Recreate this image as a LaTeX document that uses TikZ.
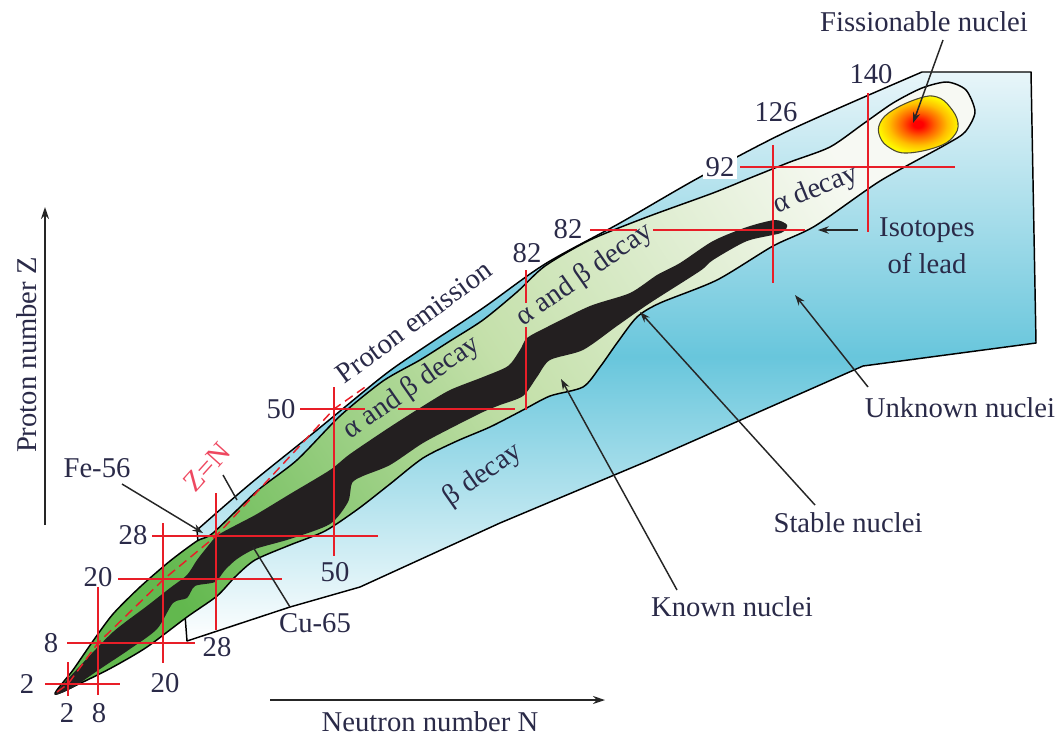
\documentclass[tikz,border=0pt]{standalone}
\usepackage{fontspec}
\setmainfont{Liberation Serif}
\usetikzlibrary{arrows.meta}
\definecolor{txt}{RGB}{42,42,72}
\definecolor{magic}{RGB}{232,30,40}
\definecolor{znred}{RGB}{238,72,96}
\definecolor{cyanA}{RGB}{104,198,220}
\definecolor{paleA}{RGB}{232,245,249}
\definecolor{gDark}{RGB}{98,184,78}
\definecolor{gMid}{RGB}{196,224,170}
\definecolor{gLight}{RGB}{247,249,243}
\definecolor{band}{RGB}{35,31,32}
\pgfdeclareradialshading{fiss}{\pgfpoint{0bp}{0bp}}{color(0bp)=(red); color(3bp)=(red); color(10bp)=(orange!75!red); color(18bp)=(orange!50!yellow); color(25bp)=(yellow!95!orange); color(50bp)=(yellow)}
\begin{document}
\begin{tikzpicture}[x=0.75pt,y=-0.75pt,
  every node/.style={text=txt,font=\fontsize{21.5}{24}\selectfont,inner sep=0pt},
  outline/.style={draw=black,line width=1.1pt,line join=round},
  magicline/.style={draw=magic,line width=1.1pt},
  leader/.style={draw=black!85,line width=1.1pt},
  pointer/.style={leader,-{Stealth[length=8pt,width=5.5pt]}},
  axisarrow/.style={draw=black!85,line width=1.1pt,-{Stealth[length=9pt,width=6pt]}},
  rlabel/.style={text=znred},
]
\useasboundingbox (0,0) rectangle (1059,736);
% unknown nuclei region
\shadedraw[outline,top color=paleA,bottom color=white,middle color=cyanA]
  (185,615) -- (187,641) -- (290,607) -- (360,587) -- (500,523) -- (650,460) -- (863,366) -- (1036,343) -- (1031,72) -- (922,72)
  -- plot[smooth,tension=0.5] coordinates {(922,72) (790,130) (700,177) (620,223) (545,264) (483,308) (420,350) (383,376) (317,430) (250,484) (197,530)}
  -- (200,565) -- cycle;
% known nuclei region
\shadedraw[outline,left color=gDark,right color=gLight,middle color=gMid,shading angle=123]
  plot[smooth cycle,tension=0.45] coordinates {(55,694) (73,670) (93,641) (113,614) (140,587) (170,561) (197,541) (213,533) (257,491) (297,460) (340,416) (383,381) (420,360) (450,341) (483,320) (517,292) (545,266) (590,240) (647,217) (713,193) (750,178) (790,162) (830,147) (863,124) (893,103) (922,88) (947,82) (966,90) (975,112) (965,132) (945,145) (880,181) (815,226) (773,246) (717,280) (660,303) (637,317) (617,343) (600,367) (583,387) (550,396) (523,410) (490,427) (457,441) (423,458) (390,484) (358,509) (325,531) (290,545) (255,560) (235,577) (217,596) (187,617) (147,647) (113,667) (83,682)};
% stable nuclei band
\fill[band] plot[smooth cycle,tension=0.45] coordinates {(55,694) (80,666) (113,632) (147,606) (170,588) (187,575) (197,560) (208,546) (218,535) (240,523) (257,514) (290,494) (330,470) (350,454) (390,427) (423,406) (450,390) (483,377) (508,366) (520,350) (527,338) (547,327) (590,306) (630,293) (657,275) (680,263) (713,241) (747,227) (775,220) (787,225) (781,233) (747,241) (713,260) (700,271) (650,303) (617,326) (583,350) (550,360) (537,377) (523,396) (500,405) (483,412) (457,425) (423,443) (390,465) (363,476) (352,483) (348,502) (330,524) (290,539) (255,549) (237,559) (225,570) (215,582) (195,586) (187,598) (173,603) (157,629) (130,649) (100,669) (72,688)};
% fissionable nuclei
\shadedraw[draw=black!60!olive,line width=0.8pt,shading=fiss] plot[smooth cycle,tension=0.7] coordinates {(880,123) (893,110) (920,98) (937,97) (950,107) (958,123) (953,137) (937,147) (907,153) (890,148) (880,137)};
% magic number lines (Z)
\draw[magicline] (45,684) -- (120,684);
\draw[magicline] (67,643) -- (195,643);
\draw[magicline] (118,579) -- (282,579);
\draw[magicline] (152,536) -- (378,536);
\draw[magicline] (300,409) -- (365,409);
\draw[magicline] (398,409) -- (515,409);
\draw[magicline] (590,230) -- (637,230);
\draw[magicline] (653,230) -- (805,230);
\draw[magicline] (740,167) -- (955,167);
% magic number lines (N)
\draw[magicline] (68,662) -- (68,696);
\draw[magicline] (98,587) -- (98,695);
\draw[magicline] (163,523) -- (163,663);
\draw[magicline] (216,493) -- (216,630);
\draw[magicline] (334,387) -- (334,556);
\draw[magicline] (526,270) -- (526,303);
\draw[magicline] (526,327) -- (526,410);
\draw[magicline] (773,145) -- (773,283);
\draw[magicline] (868,93) -- (868,232);
% Z = N
\draw[magicline,dash pattern=on 7pt off 4pt] plot coordinates {(57,692) (68,684) (98,643) (164,579) (216,536) (334,409) (368,385)};
% numbers
\node (z2) at (27,684) {2};
\node (z8) at (51,643) {8};
\node (z20) at (98,577) {20};
\node (z28) at (133,535) {28};
\node (z50) at (281,409) {50};
\node (z82) at (568,229) {82};
\node[fill=white,inner sep=2pt] (z92) at (720,167) {92};
\node (n2) at (67,713) {2};
\node (n8) at (99,713) {8};
\node (n20) at (165,683) {20};
\node (n28) at (217,647) {28};
\node (n50) at (335,572) {50};
\node (n82) at (527,253) {82};
\node (n126) at (776,112) {126};
\node (n140) at (871,74) {140};
% region texts
\node[rotate=36.5] (proton) at (414,322) {Proton emission};
\node[rotate=35] (ab1) at (412,388) {α and β decay};
\node[rotate=35] (ab2) at (585,275) {α and β decay};
\node[rotate=22] (ad) at (816,190) {α decay};
\node[rotate=35] (bd) at (483,475) {β decay};
\node[rlabel,rotate=48] (zn) at (207,467) {Z=N};
% labels
\node (fe) at (97,468) {Fe-56};
\node (cu) at (315,623) {Cu-65};
\node (known) at (732,607) {Known nuclei};
\node (stable) at (848,523) {Stable nuclei};
\node (unknown) at (960,408) {Unknown nuclei};
\node (iso1) at (927,230) {Isotopes};
\node (iso2) at (927,264) {of lead};
\node (fiss) at (924,22) {Fissionable nuclei};
\node[rotate=90] (pz) at (27,355) {Proton number Z};
\node (nn) at (430,722) {Neutron number N};
% leaders
\coordinate (feA) at (122,484); \coordinate (feB) at (203,533);
\draw[pointer] (feA) -- (feB);
\coordinate (znA) at (223,475); \coordinate (znB) at (237,500);
\draw[leader] (znA) -- (znB);
\coordinate (cuA) at (290,607); \coordinate (cuB) at (253,547);
\draw[leader] (cuA) -- (cuB);
\coordinate (knA) at (677,590); \coordinate (knB) at (561,379);
\draw[pointer] (knA) -- (knB);
\coordinate (stA) at (815,505); \coordinate (stB) at (640,312);
\draw[pointer] (stA) -- (stB);
\coordinate (unA) at (868,387); \coordinate (unB) at (795,295);
\draw[pointer] (unA) -- (unB);
\coordinate (isA) at (858,230); \coordinate (isB) at (818,230);
\draw[pointer] (isA) -- (isB);
\coordinate (fiA) at (943,40); \coordinate (fiB) at (913,123);
\draw[pointer] (fiA) -- (fiB);
% axes
\coordinate (zaxA) at (45,525); \coordinate (zaxB) at (45,207);
\draw[axisarrow] (zaxA) -- (zaxB);
\coordinate (naxA) at (270,700); \coordinate (naxB) at (605,700);
\draw[axisarrow] (naxA) -- (naxB);
\end{tikzpicture}
\end{document}
